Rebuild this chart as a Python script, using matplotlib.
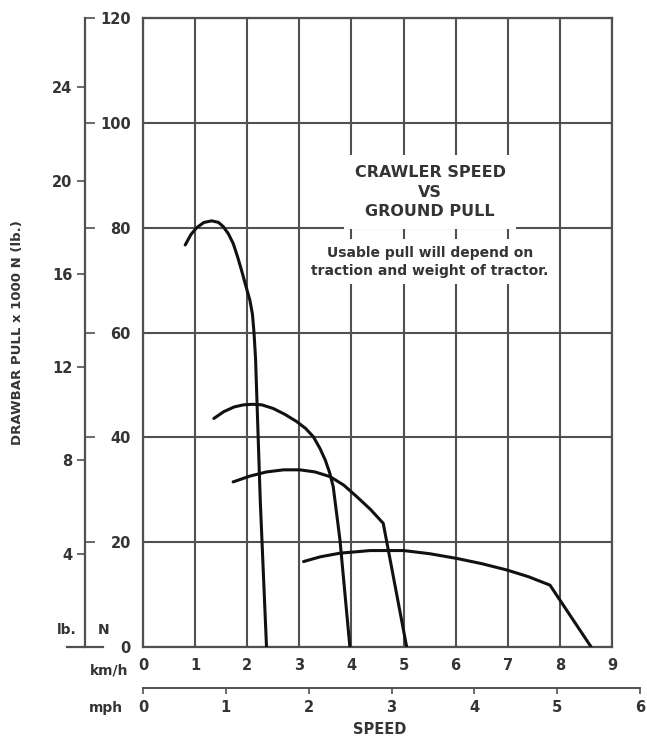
import numpy as np
import matplotlib
matplotlib.use("Agg")
import matplotlib.pyplot as plt

# speed (km/h) vs drawbar pull (x 1000 N), one curve per gear
gear1_kmh = [0.81, 0.92, 1.03, 1.17, 1.32, 1.45, 1.54, 1.64, 1.73, 1.81, 1.89, 1.97, 2.05, 2.10, 2.13, 2.16, 2.18, 2.25, 2.37]
gear1_kN = [76.7, 78.7, 80.0, 81.0, 81.3, 81.0, 80.2, 78.8, 77.0, 74.6, 71.9, 69.0, 66.2, 63.5, 60.0, 55.0, 49.0, 28.0, 0.0]

gear2_kmh = [1.36, 1.55, 1.75, 1.93, 2.10, 2.28, 2.50, 2.72, 2.95, 3.12, 3.27, 3.40, 3.50, 3.58, 3.65, 3.78, 3.97]
gear2_kN = [43.6, 44.9, 45.8, 46.2, 46.3, 46.2, 45.5, 44.4, 43.0, 41.7, 40.1, 37.8, 35.6, 33.3, 30.6, 20.4, 0.0]

gear3_kmh = [1.73, 2.05, 2.37, 2.70, 3.01, 3.30, 3.59, 3.85, 4.10, 4.36, 4.61, 5.06]
gear3_kN = [31.5, 32.6, 33.4, 33.8, 33.8, 33.4, 32.5, 30.9, 28.7, 26.3, 23.6, 0.0]

gear4_kmh = [3.08, 3.40, 3.78, 4.36, 5.00, 5.50, 6.02, 6.50, 6.98, 7.40, 7.81, 8.60]
gear4_kN = [16.3, 17.2, 17.9, 18.4, 18.4, 17.8, 16.9, 15.9, 14.7, 13.4, 11.8, 0.0]

kmh_ticks = [0, 1, 2, 3, 4, 5, 6, 7, 8, 9]
mph_ticks = [0, 1, 2, 3, 4, 5, 6]
N_ticks = [0, 20, 40, 60, 80, 100, 120]
lb_ticks = [4, 8, 12, 16, 20, 24]
LB_PER_N = 1 / 4.448

W, H = 647, 737
ink = "#383333"
gridc = "#554e4e"
plt.rcParams["font.family"] = "DejaVu Sans"
plt.rcParams["font.weight"] = "bold"

fig = plt.figure(figsize=(W / 100, H / 100), dpi=100)
fig.patch.set_facecolor("white")

def fx(px):
    return px / W

def fy(py):
    return 1 - py / H

# main grid
ax = fig.add_axes([fx(143), fy(647), fx(612) - fx(143), fy(18) - fy(647)])
ax.set_xlim(0, 9)
ax.set_ylim(0, 120)
ax.set_xticks(kmh_ticks)
ax.set_yticks(N_ticks)
ax.grid(True, color=gridc, lw=1.5)
ax.set_axisbelow(True)
for s in ax.spines.values():
    s.set_color(gridc)
    s.set_linewidth(1.6)
ax.tick_params(axis="y", left=False, labelleft=False)
ax.tick_params(axis="x", length=0, pad=8, labelsize=10.5, labelcolor=ink)

for xs, ys in [(gear1_kmh, gear1_kN), (gear2_kmh, gear2_kN),
               (gear3_kmh, gear3_kN), (gear4_kmh, gear4_kN)]:
    ax.plot(xs, ys, color="#111111", lw=2.2, solid_capstyle="round",
            solid_joinstyle="round", zorder=3)

ax.text(5.51, 86.8, "CRAWLER SPEED\nVS\nGROUND PULL", ha="center", va="center",
        fontsize=11.5, color=ink, linespacing=1.38, zorder=4,
        bbox=dict(boxstyle="square,pad=0.65", fc="white", ec="none"))
ax.text(5.51, 73.5, "Usable pull will depend on\ntraction and weight of tractor.",
        ha="center", va="center", fontsize=10, color=ink, linespacing=1.4, zorder=4,
        bbox=dict(boxstyle="square,pad=0.45", fc="white", ec="none"))

# lb / N scale on the left
axL = fig.add_axes([fx(67), fy(647), fx(103) - fx(67), fy(18) - fy(647)])
axL.patch.set_visible(False)
axL.set_ylim(0, 120 * LB_PER_N)
axL.set_xlim(0, 1)
axL.set_xticks([])
axL.set_yticks(lb_ticks)
axL.spines["top"].set_visible(False)
axL.spines["right"].set_visible(False)
axL.spines["left"].set_position(("axes", 0.5))
for s in ("left", "bottom"):
    axL.spines[s].set_color(gridc)
    axL.spines[s].set_linewidth(1.6)
axL.tick_params(axis="y", direction="out", length=6, width=1.2, color=gridc,
                pad=3, labelsize=10.5, labelcolor=ink)

axN = axL.twinx()
axN.set_ylim(0, 120)
axN.set_yticks(N_ticks)
for s in ("top", "left", "bottom", "right"):
    axN.spines[s].set_visible(False)
axN.spines["right"].set_position(("axes", 0.5))
axN.tick_params(axis="y", direction="out", length=7, width=1.2, color=gridc,
                pad=26, labelsize=10.5, labelcolor=ink)
for lab in axN.get_yticklabels():
    lab.set_horizontalalignment("right")

# mph scale
axM = fig.add_axes([fx(143), fy(688), fx(640) - fx(143), 0.0005])
axM.patch.set_visible(False)
axM.set_xlim(0, 6)
axM.set_xticks(mph_ticks)
axM.set_yticks([])
for s in ("top", "left", "right"):
    axM.spines[s].set_visible(False)
axM.spines["bottom"].set_color(gridc)
axM.spines["bottom"].set_linewidth(1.4)
axM.tick_params(axis="x", direction="out", length=4, width=1.2, color=gridc,
                pad=5, labelsize=10.5, labelcolor=ink)

# labels
fig.text(fx(77), fy(630), "lb.", ha="right", va="center", fontsize=10, color=ink)
fig.text(fx(104), fy(630), "N", ha="center", va="center", fontsize=10, color=ink)
fig.text(fx(128), fy(671), "km/h", ha="right", va="center", fontsize=10, color=ink)
fig.text(fx(123), fy(708), "mph", ha="right", va="center", fontsize=10, color=ink)
fig.text(fx(380), fy(729), "SPEED", ha="center", va="center", fontsize=10.5, color=ink)
fig.text(fx(18), fy(333), "DRAWBAR PULL x 1000 N (lb.)", ha="center", va="center",
         rotation=90, fontsize=9.5, color=ink)

fig.savefig("out.png", dpi=100, facecolor="white")
